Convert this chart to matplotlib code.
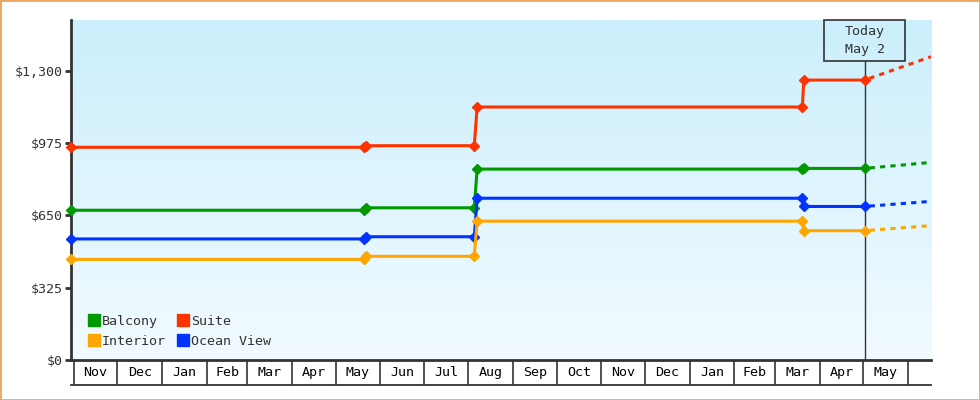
import matplotlib
matplotlib.use('Agg')
import matplotlib.pyplot as plt
import matplotlib.dates as mdates
from matplotlib.patches import Rectangle
from matplotlib.lines import Line2D
from matplotlib.colors import LinearSegmentedColormap
import numpy as np
import pandas as pd

# ---------------- data ----------------
point_dates = ['2016-10-30', '2017-05-21', '2017-05-22', '2017-08-05',
               '2017-08-07', '2018-03-20', '2018-03-21', '2018-05-02']
balcony = [673, 673, 684, 684, 858, 858, 861, 861]
suite = [956, 956, 963, 963, 1137, 1137, 1258, 1258]
ocean_view = [544, 544, 554, 554, 727, 727, 690, 690]
interior = [452, 452, 466, 466, 624, 624, 581, 581]

today_date = '2018-05-02'
forecast_date = '2018-06-17'
forecast_balcony = 888
forecast_suite = 1363
forecast_ocean_view = 713
forecast_interior = 604

month_labels = ['Nov', 'Dec', 'Jan', 'Feb', 'Mar', 'Apr', 'May', 'Jun', 'Jul',
                'Aug', 'Sep', 'Oct', 'Nov', 'Dec', 'Jan', 'Feb', 'Mar', 'Apr', 'May']
y_ticks = [0, 325, 650, 975, 1300]
y_tick_labels = ['$0', '$325', '$650', '$975', '$1,300']

x_start = '2016-10-30'
x_end = '2018-06-17'
y_max = 1528

# ---------------- style ----------------
FONT = 'DejaVu Sans Mono'
plt.rcParams['font.family'] = [FONT]
DARK = '#333333'
FS = 9.6
colors = {'Balcony': '#009900', 'Suite': '#FF3300',
          'Ocean View': '#0033FF', 'Interior': '#FFA500'}

xd = mdates.date2num(pd.to_datetime(point_dates))
today = mdates.date2num(pd.Timestamp(today_date))
fx = mdates.date2num(pd.Timestamp(forecast_date))
x0 = mdates.date2num(pd.Timestamp(x_start))
x1 = mdates.date2num(pd.Timestamp(x_end))
month_starts = mdates.date2num(pd.date_range('2016-11-01', periods=len(month_labels) + 1, freq='MS'))
month_mids = (month_starts[:-1] + month_starts[1:]) / 2

fig = plt.figure(figsize=(9.8, 4), dpi=100)
rect = [71 / 980, 40 / 400, 860 / 980, 340 / 400]

# gradient background
bg = fig.add_axes(rect, zorder=0)
cmap = LinearSegmentedColormap.from_list('bg', ['#F2FBFF', '#CBEFFC'])
bg.imshow(np.linspace(0, 1, 256).reshape(-1, 1), cmap=cmap, aspect='auto',
          origin='lower', extent=(0, 1, 0, 1))
bg.set_axis_off()

ax = fig.add_axes(rect, zorder=1)
ax.patch.set_alpha(0)

series = [('Balcony', balcony, forecast_balcony),
          ('Suite', suite, forecast_suite),
          ('Ocean View', ocean_view, forecast_ocean_view),
          ('Interior', interior, forecast_interior)]

for name, vals, fc in series:
    c = colors[name]
    ax.plot(xd, vals, color=c, lw=2.2, marker='D', ms=5.3, mec=c, mfc=c,
            zorder=4, clip_on=False, solid_joinstyle='miter')
    ax.plot([today, fx], [vals[-1], fc], color=c, lw=2.2,
            linestyle=(1.7, (1.7, 1.7)), zorder=3, dash_capstyle='butt')

ax.set_xlim(x0, x1)
ax.set_ylim(0, y_max)

for s in ['top', 'right']:
    ax.spines[s].set_visible(False)
for s in ['left', 'bottom']:
    ax.spines[s].set_color(DARK)
    ax.spines[s].set_linewidth(2)

ax.set_yticks(y_ticks)
ax.set_yticklabels(y_tick_labels)
ax.tick_params(axis='y', direction='out', length=4, width=2, color=DARK,
               labelcolor=DARK, labelsize=FS, pad=2)

ax.set_xticks(month_starts)
ax.set_xticklabels([''] * len(month_starts))
ax.set_xticks(month_mids, minor=True)
ax.set_xticklabels(month_labels, minor=True)
ax.tick_params(axis='x', which='major', direction='out', length=18, width=1.2, color=DARK)
ax.tick_params(axis='x', which='minor', length=0, labelsize=FS, labelcolor='black', pad=4.2)

xt = ax.get_xaxis_transform()
ax.plot([x0, x1], [-25 / 340, -25 / 340], color=DARK, lw=1.3, transform=xt, clip_on=False)

# Today marker
box_h = 40.7 / 340
px_per_day = 860 / (x1 - x0)
box_w = 80.5 / px_per_day
ax.plot([today, today], [0, 1 - box_h], color=DARK, lw=1, transform=xt, zorder=2)
ax.add_patch(Rectangle((today - box_w / 2, 1 - box_h), box_w, box_h, transform=xt,
                       fill=False, ec=DARK, lw=1.2, clip_on=False, zorder=5))
ax.text(today, 1 - 12 / 340, 'Today', transform=xt, ha='center', va='center',
        fontsize=FS, color=DARK)
ax.text(today, 1 - 30 / 340, 'May 2', transform=xt, ha='center', va='center',
        fontsize=FS, color=DARK)

# legend
order = ['Balcony', 'Interior', 'Suite', 'Ocean View']
handles = [Line2D([], [], marker='s', ls='none', color=colors[n], ms=8) for n in order]
leg = ax.legend(handles, order, ncol=2, loc='upper left',
                bbox_to_anchor=(18 / 860, 1 - 295 / 340), frameon=False,
                handlelength=0.75, handletextpad=0.2, columnspacing=0.95,
                labelspacing=0.5, borderpad=0, borderaxespad=0,
                prop={'family': FONT, 'size': FS})
for t in leg.get_texts():
    t.set_color(DARK)

fig.add_artist(Rectangle((0, 0), 1, 1, transform=fig.transFigure, fill=False,
                         ec='#E8A864', lw=2))

fig.savefig('out.png', dpi=100)
